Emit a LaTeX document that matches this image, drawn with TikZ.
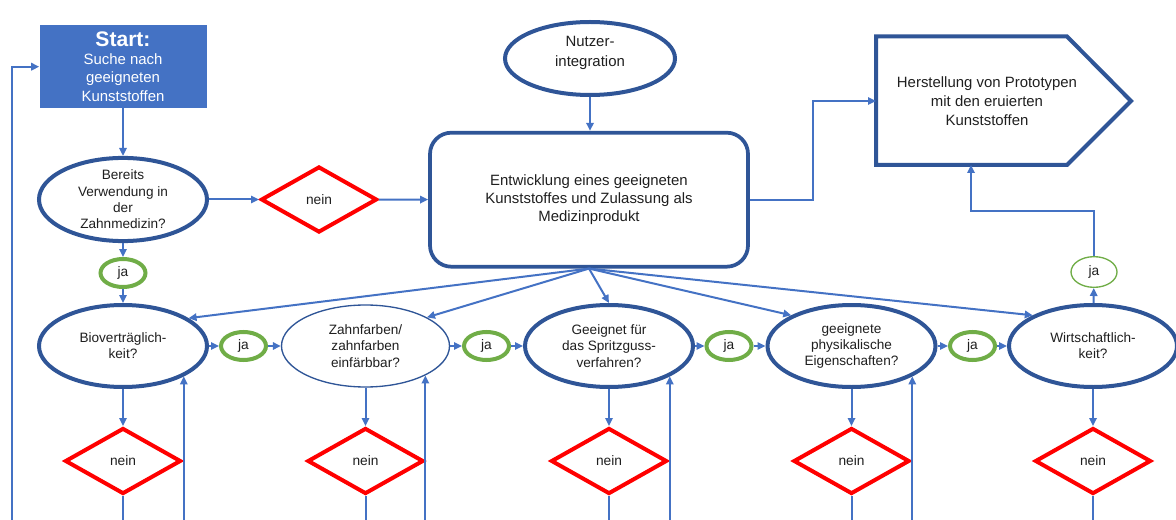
\documentclass[tikz,border=0pt]{standalone}
\usepackage{fontspec}
\setmainfont{Liberation Sans}
\usetikzlibrary{shapes.geometric,arrows.meta,calc}

\definecolor{lineblue}{HTML}{4472C4}
\definecolor{frameblue}{HTML}{2F5597}
\definecolor{nored}{HTML}{FF0000}
\definecolor{yesgreen}{HTML}{70AD47}
\definecolor{ink}{HTML}{1F1F1F}

\tikzset{
  link/.style={draw=lineblue, line width=1.5pt},
  arr/.style={link, -{Triangle[length=6pt,width=5.5pt]}},
  question/.style={ellipse, draw=frameblue, line width=3pt, fill=white,
    minimum width=126pt, minimum height=61.5pt, inner sep=0pt,
    align=center, text=ink, font=\fontsize{10.2}{12.2}\selectfont},
  thinquestion/.style={question, line width=1pt},
  nobox/.style={diamond, draw=nored, line width=3pt, fill=white,
    minimum width=87pt, minimum height=49.5pt, inner sep=0pt,
    text=ink, font=\fontsize{10.3}{12}\selectfont},
  yesbox/.style={ellipse, draw=yesgreen, line width=3pt, fill=white,
    minimum width=33.75pt, minimum height=21pt, inner sep=0pt,
    text=ink, font=\fontsize{10.3}{12}\selectfont},
  thinyes/.style={yesbox, line width=1pt, minimum width=34.5pt, minimum height=23pt},
  processbox/.style={rectangle, rounded corners=16pt, draw=frameblue, line width=2.8pt,
    minimum width=238.5pt, minimum height=100.5pt, align=center, text=ink,
    font=\fontsize{11.2}{13.5}\selectfont},
}

\begin{document}
\begin{tikzpicture}[x=0.75pt,y=-0.75pt]
\useasboundingbox (0,0) rectangle (1176,520);
\coordinate (bot) at (0,520);
\coordinate (fb) at (12,520);

% start box
\node[rectangle, fill=lineblue, minimum width=125.25pt, minimum height=62.25pt,
      text=white, align=center, font=\fontsize{11.2}{13.9}\selectfont] (start) at (123,66.7)
  {{\fontsize{15.8}{17}\selectfont\bfseries Start:}\\[-1pt]Suche nach\\geeigneten\\Kunststoffen};

% first question and side branch
\node[question] (bereits) at (123,199.5) {Bereits\\Verwendung in\\der\\Zahnmedizin?};
\node[nobox] (no0) at (319,199.5) {nein};
\node[yesbox] (ja0) at (123,273) {ja};

% central process: user integration ellipse, its text sits slightly above centre
\node[question, minimum width=127.5pt, minimum height=54.75pt] (nutzer) at (590,58.5) {};
\node[align=center, text=ink, font=\fontsize{11.2}{15}\selectfont] (nutzertext) at (590,53)
  {Nutzer-\\integration};
\node[processbox] (ent) at (589,199.7)
  {Entwicklung eines geeigneten\\Kunststoffes und Zulassung als\\Medizinprodukt};

% prototype production (pentagon arrow)
\coordinate (hNW) at (876,36.5);
\coordinate (hNE) at (1067,36.5);
\coordinate (hTip) at (1131,101);
\coordinate (hSE) at (1067,165);
\coordinate (hSW) at (876,165);
\coordinate (hL) at (876,101);
\coordinate (hB) at (971,165);
\draw[draw=frameblue, line width=3pt, line join=miter]
  (hNW) -- (hNE) -- (hTip) -- (hSE) -- (hSW) -- cycle;
\node[align=center, text=ink, font=\fontsize{11.2}{14}\selectfont] (herst) at (987,101)
  {Herstellung von Prototypen\\mit den eruierten\\Kunststoffen};

% row of criteria
\node[question] (bio) at (123,346) {Bioverträglich-\\keit?};
\node[thinquestion] (zahn) at (365.5,346) {Zahnfarben/\\zahnfarben\\einfärbbar?};
\node[question] (geeig) at (609,346) {Geeignet für\\das Spritzguss-\\verfahren?};
\node[question] (phys) at (851.5,346) {geeignete\\physikalische\\Eigenschaften?};
\node[question] (wirt) at (1093,346) {Wirtschaftlich-\\keit?};

\node[yesbox] (ja1) at (243.5,346) {ja};
\node[yesbox] (ja2) at (486.5,346) {ja};
\node[yesbox] (ja3) at (729,346) {ja};
\node[yesbox] (ja4) at (972.5,346) {ja};
\node[thinyes] (ja5) at (1094,272) {ja};

\node[nobox] (n1) at (123,461) {nein};
\node[nobox] (n2) at (365.5,461) {nein};
\node[nobox] (n3) at (609,461) {nein};
\node[nobox] (n4) at (851.5,461) {nein};
\node[nobox] (n5) at (1093,461) {nein};

% connectors
\draw[arr] (fb) |- (start.west);
\draw[arr] (start) -- (bereits);
\draw[arr] (bereits) -- (no0);
\draw[arr] (no0) -- (ent);
\draw[arr] (nutzer.south) -- (nutzer.south |- ent.north);
\draw[arr] (ent.east) -- ++(63,0) |- (hL);
\draw[arr] (bereits) -- (ja0);
\draw[arr] (ja0) -- (bio);

\draw[arr] (ent.south) -- (bio.23);
\draw[arr] (ent.south) -- (zahn.25);
\draw[arr] (ent.south) -- (geeig.north);
\draw[arr] (ent.south) -- (phys.153);
\draw[arr] (ent.south) -- (wirt.153);

\draw[arr] (bio) -- (ja1);
\draw[arr] (ja1) -- (zahn);
\draw[arr] (zahn) -- (ja2);
\draw[arr] (ja2) -- (geeig);
\draw[arr] (geeig) -- (ja3);
\draw[arr] (ja3) -- (phys);
\draw[arr] (phys) -- (ja4);
\draw[arr] (ja4) -- (wirt);

\draw[arr] (wirt) -- (ja5);
\draw[arr] (ja5.north) -- ++(0,-45) -| (hB);

\foreach \q/\n in {bio/n1, zahn/n2, geeig/n3, phys/n4, wirt/n5}{
  \draw[arr] (\q) -- (\n);
  \draw[link] (\n.south) -- (\n.south |- bot);
}
\foreach \q in {bio, zahn, geeig, phys}{
  \draw[arr] (\q.south east |- bot) -- (\q.south east);
}
\end{tikzpicture}
\end{document}
